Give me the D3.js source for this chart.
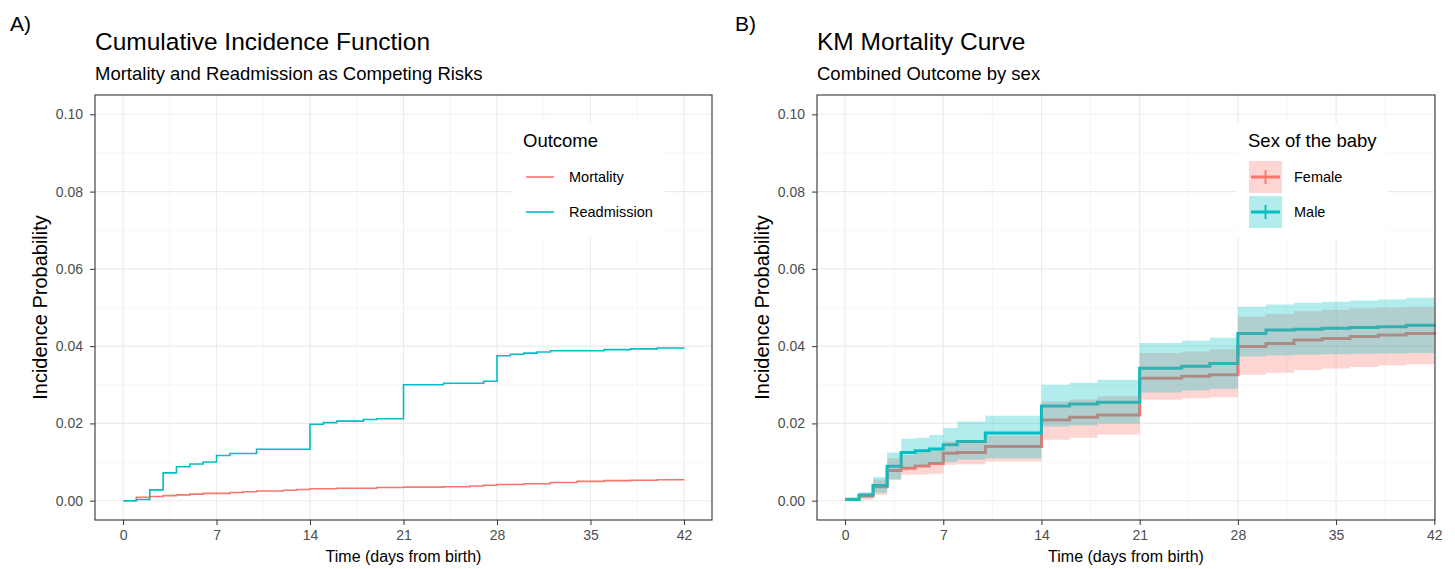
<!DOCTYPE html>
<html>
<head>
<meta charset="utf-8">
<script src="https://cdn.jsdelivr.net/npm/d3@7"></script>
<style>
  body { margin: 0; background: #fff; }
  svg { font-family: "Liberation Sans", Arial, sans-serif; }
  .gridmajor line { stroke: #EBEBEB; stroke-width: 1.1; }
  .gridminor line { stroke: #F2F2F2; stroke-width: 0.7; }
  .axis path { display: none; }
  .axis line { stroke: #333; }
  .axis text { fill: #4D4D4D; font-size: 14px; }
</style>
</head>
<body>
<div id="chart"></div>
<script>
// ---- data ----
var xTicks = [0, 7, 14, 21, 28, 35, 42];
var yTicks = [0, 0.02, 0.04, 0.06, 0.08, 0.10];

// panel A: competing risks CIF
var mortDays = [0, 1, 2, 3, 4, 5, 6, 8, 9, 10, 12, 13, 14, 16, 19, 21, 24, 26, 27, 28, 30, 32, 34, 36, 38, 40, 42];
var mortVals = [0, 0.0009, 0.0011, 0.0013, 0.0015, 0.0017, 0.0019, 0.0021, 0.0023, 0.0025, 0.0027, 0.0029, 0.0031, 0.0032, 0.0034, 0.0035, 0.0036, 0.0038, 0.0040, 0.0042, 0.0044, 0.0047, 0.0050, 0.0052, 0.0053, 0.0054, 0.0055];
var readDays = [0, 1, 2, 3, 4, 5, 6, 7, 8, 10, 14, 15, 16, 18, 19, 21, 24, 27, 28, 29, 30, 31, 32, 36, 38, 40, 42];
var readVals = [0, 0.0003, 0.0028, 0.0072, 0.0088, 0.0095, 0.0100, 0.0117, 0.0122, 0.0133, 0.0198, 0.0202, 0.0206, 0.0210, 0.0212, 0.0300, 0.0304, 0.0309, 0.0375, 0.0379, 0.0382, 0.0385, 0.0388, 0.0391, 0.0393, 0.0395, 0.0396];

// panel B: KM by sex
var kmDays = [0, 1, 2, 3, 4, 5, 6, 7, 8, 10, 14, 16, 18, 21, 24, 26, 28, 30, 32, 34, 36, 38, 40, 42];
var maleEst = [0.0003, 0.0015, 0.0039, 0.0089, 0.0125, 0.0129, 0.0134, 0.0145, 0.0153, 0.0175, 0.0245, 0.0250, 0.0255, 0.0343, 0.0348, 0.0355, 0.0433, 0.0442, 0.0444, 0.0446, 0.0448, 0.0450, 0.0454, 0.0456];
var maleUpper = [0.0008, 0.0022, 0.0061, 0.0125, 0.0160, 0.0163, 0.0170, 0.0188, 0.0205, 0.0220, 0.0300, 0.0305, 0.0313, 0.0408, 0.0414, 0.0422, 0.0502, 0.0508, 0.0512, 0.0515, 0.0518, 0.0521, 0.0525, 0.0526];
var maleLower = [0, 0.0008, 0.0020, 0.0055, 0.0085, 0.0090, 0.0095, 0.0100, 0.0106, 0.0110, 0.0192, 0.0195, 0.0200, 0.0280, 0.0285, 0.0290, 0.0373, 0.0376, 0.0378, 0.0379, 0.0380, 0.0381, 0.0382, 0.0383];
var femaleEst = [0.0003, 0.0012, 0.0036, 0.0078, 0.0084, 0.0090, 0.0096, 0.0123, 0.0125, 0.0140, 0.0209, 0.0216, 0.0222, 0.0317, 0.0322, 0.0326, 0.0399, 0.0407, 0.0416, 0.0420, 0.0425, 0.0429, 0.0433, 0.0437];
var femaleUpper = [0.0008, 0.0020, 0.0055, 0.0110, 0.0118, 0.0125, 0.0130, 0.0153, 0.0156, 0.0168, 0.0257, 0.0262, 0.0270, 0.0382, 0.0386, 0.0392, 0.0476, 0.0483, 0.0490, 0.0494, 0.0498, 0.0500, 0.0502, 0.0504];
var femaleLower = [0, 0.0003, 0.0015, 0.0054, 0.0067, 0.0068, 0.0070, 0.0093, 0.0094, 0.0102, 0.0158, 0.0163, 0.0171, 0.0261, 0.0265, 0.0268, 0.0326, 0.0331, 0.0338, 0.0342, 0.0346, 0.0350, 0.0353, 0.0356];

var red = "#F8766D", teal = "#00BFC4";

var svg = d3.select("#chart").append("svg")
    .attr("width", 1455)
    .attr("height", 569);

function zip(days, a, b, c) {
    return days.map(function(d, i) {
        return {t: d, v: a[i], hi: b ? b[i] : null, lo: c ? c[i] : null};
    });
}

// draws grid, axes and titles; returns scales
function drawFrame(p) {
    var g = svg.append("g");
    var xScale = d3.scaleLinear().domain(p.xDomain).range([p.left, p.right]);
    var yScale = d3.scaleLinear().domain([-0.005, 0.105]).range([p.bottom, p.top]);

    var xMinor = d3.range(3.5, 42, 7);
    var yMinor = d3.range(0.01, 0.1, 0.02);

    // minor gridlines
    var gm = g.append("g").attr("class", "gridminor");
    gm.selectAll(".vx").data(xMinor).enter().append("line")
        .attr("x1", function(d) { return xScale(d); }).attr("x2", function(d) { return xScale(d); })
        .attr("y1", p.top).attr("y2", p.bottom);
    gm.selectAll(".hy").data(yMinor).enter().append("line")
        .attr("y1", function(d) { return yScale(d); }).attr("y2", function(d) { return yScale(d); })
        .attr("x1", p.left).attr("x2", p.right);
    // major gridlines
    var gM = g.append("g").attr("class", "gridmajor");
    gM.selectAll(".vx").data(xTicks).enter().append("line")
        .attr("x1", function(d) { return xScale(d); }).attr("x2", function(d) { return xScale(d); })
        .attr("y1", p.top).attr("y2", p.bottom);
    gM.selectAll(".hy").data(yTicks).enter().append("line")
        .attr("y1", function(d) { return yScale(d); }).attr("y2", function(d) { return yScale(d); })
        .attr("x1", p.left).attr("x2", p.right);

    // axes
    g.append("g")
        .attr("class", "axis")
        .attr("transform", "translate(0," + p.bottom + ")")
        .call(d3.axisBottom(xScale).tickValues(xTicks).tickSize(5).tickPadding(5)
            .tickFormat(d3.format("d")));
    g.append("g")
        .attr("class", "axis")
        .attr("transform", "translate(" + p.left + ",0)")
        .call(d3.axisLeft(yScale).tickValues(yTicks).tickSize(5).tickPadding(7)
            .tickFormat(d3.format(".2f")));

    // titles
    svg.append("text").attr("x", p.tagX).attr("y", 31)
        .style("font-size", "21px").attr("fill", "#000").text(p.tag);
    svg.append("text").attr("x", p.left).attr("y", 50)
        .style("font-size", "24.5px").attr("fill", "#000").text(p.title);
    svg.append("text").attr("x", p.left).attr("y", 80)
        .style("font-size", "18.5px").attr("fill", "#000").text(p.subtitle);
    svg.append("text")
        .attr("x", (p.left + p.right) / 2).attr("y", 562)
        .attr("text-anchor", "middle")
        .style("font-size", "16px").attr("fill", "#000")
        .text("Time (days from birth)");
    svg.append("text")
        .attr("transform", "translate(" + p.yLabX + "," + ((p.top + p.bottom) / 2) + ") rotate(-90)")
        .attr("text-anchor", "middle")
        .style("font-size", "20px").attr("fill", "#000")
        .text("Incidence Probability");

    return {x: xScale, y: yScale, g: g};
}

function addBorder(p) {
    svg.append("rect")
        .attr("x", p.left).attr("y", p.top)
        .attr("width", p.right - p.left).attr("height", p.bottom - p.top)
        .attr("fill", "none").attr("stroke", "#333").attr("stroke-width", 1.1);
}

// ---- panel A ----
var pA = {left: 95, right: 712, top: 95, bottom: 520, xDomain: [-2.1, 44.1],
          tag: "A)", tagX: 10, title: "Cumulative Incidence Function",
          subtitle: "Mortality and Readmission as Competing Risks", yLabX: 47};
var sA = drawFrame(pA);

var stepA = d3.line()
    .x(function(d) { return sA.x(d.t); })
    .y(function(d) { return sA.y(d.v); })
    .curve(d3.curveStepAfter);

svg.append("path").datum(zip(mortDays, mortVals))
    .attr("fill", "none").attr("stroke", red).attr("stroke-width", 1.6)
    .attr("d", stepA);
svg.append("path").datum(zip(readDays, readVals))
    .attr("fill", "none").attr("stroke", teal).attr("stroke-width", 1.6)
    .attr("d", stepA);

// legend A
var legA = svg.append("g");
legA.append("rect").attr("x", 512).attr("y", 124).attr("width", 153).attr("height", 114).attr("fill", "#fff");
legA.append("text").attr("x", 523).attr("y", 147).style("font-size", "18.5px").attr("fill", "#000").text("Outcome");
var legItemsA = [{name: "Mortality", color: red}, {name: "Readmission", color: teal}];
legItemsA.forEach(function(d, i) {
    var yy = 177 + i * 35;
    legA.append("line").attr("x1", 526).attr("x2", 554).attr("y1", yy).attr("y2", yy)
        .attr("stroke", d.color).attr("stroke-width", 1.6);
    legA.append("text").attr("x", 569).attr("y", yy + 5).style("font-size", "14.5px")
        .attr("fill", "#000").text(d.name);
});
addBorder(pA);

// ---- panel B ----
var pB = {left: 817, right: 1435, top: 95, bottom: 520, xDomain: [-2.0, 42.05],
          tag: "B)", tagX: 735, title: "KM Mortality Curve",
          subtitle: "Combined Outcome by sex", yLabX: 769};
var sB = drawFrame(pB);

var stepB = d3.line()
    .x(function(d) { return sB.x(d.t); })
    .y(function(d) { return sB.y(d.v); })
    .curve(d3.curveStepAfter);
var bandB = d3.area()
    .x(function(d) { return sB.x(d.t); })
    .y0(function(d) { return sB.y(d.lo); })
    .y1(function(d) { return sB.y(d.hi); })
    .curve(d3.curveStepAfter);

var female = zip(kmDays, femaleEst, femaleUpper, femaleLower);
var male = zip(kmDays, maleEst, maleUpper, maleLower);

svg.append("path").datum(female)
    .attr("fill", "none").attr("stroke", red).attr("stroke-width", 3)
    .attr("d", stepB);
svg.append("path").datum(male)
    .attr("fill", "none").attr("stroke", teal).attr("stroke-width", 3)
    .attr("d", stepB);
svg.append("path").datum(female)
    .attr("fill", red).attr("fill-opacity", 0.3)
    .attr("d", bandB);
svg.append("path").datum(male)
    .attr("fill", teal).attr("fill-opacity", 0.3)
    .attr("d", bandB);

// legend B
var legB = svg.append("g");
legB.append("rect").attr("x", 1237).attr("y", 124).attr("width", 150).attr("height", 114).attr("fill", "#fff");
legB.append("text").attr("x", 1248).attr("y", 147).style("font-size", "18.5px").attr("fill", "#000").text("Sex of the baby");
var legItemsB = [{name: "Female", color: red}, {name: "Male", color: teal}];
legItemsB.forEach(function(d, i) {
    var yy = 177 + i * 35;
    legB.append("rect").attr("x", 1249).attr("y", yy - 16).attr("width", 33).attr("height", 32)
        .attr("fill", d.color).attr("fill-opacity", 0.3);
    legB.append("line").attr("x1", 1251).attr("x2", 1280).attr("y1", yy).attr("y2", yy)
        .attr("stroke", d.color).attr("stroke-width", 3);
    legB.append("line").attr("x1", 1265.5).attr("x2", 1265.5).attr("y1", yy - 7).attr("y2", yy + 7)
        .attr("stroke", d.color).attr("stroke-width", 1.8);
    legB.append("text").attr("x", 1294).attr("y", yy + 5).style("font-size", "14.5px")
        .attr("fill", "#000").text(d.name);
});
addBorder(pB);
</script>
</body>
</html>
